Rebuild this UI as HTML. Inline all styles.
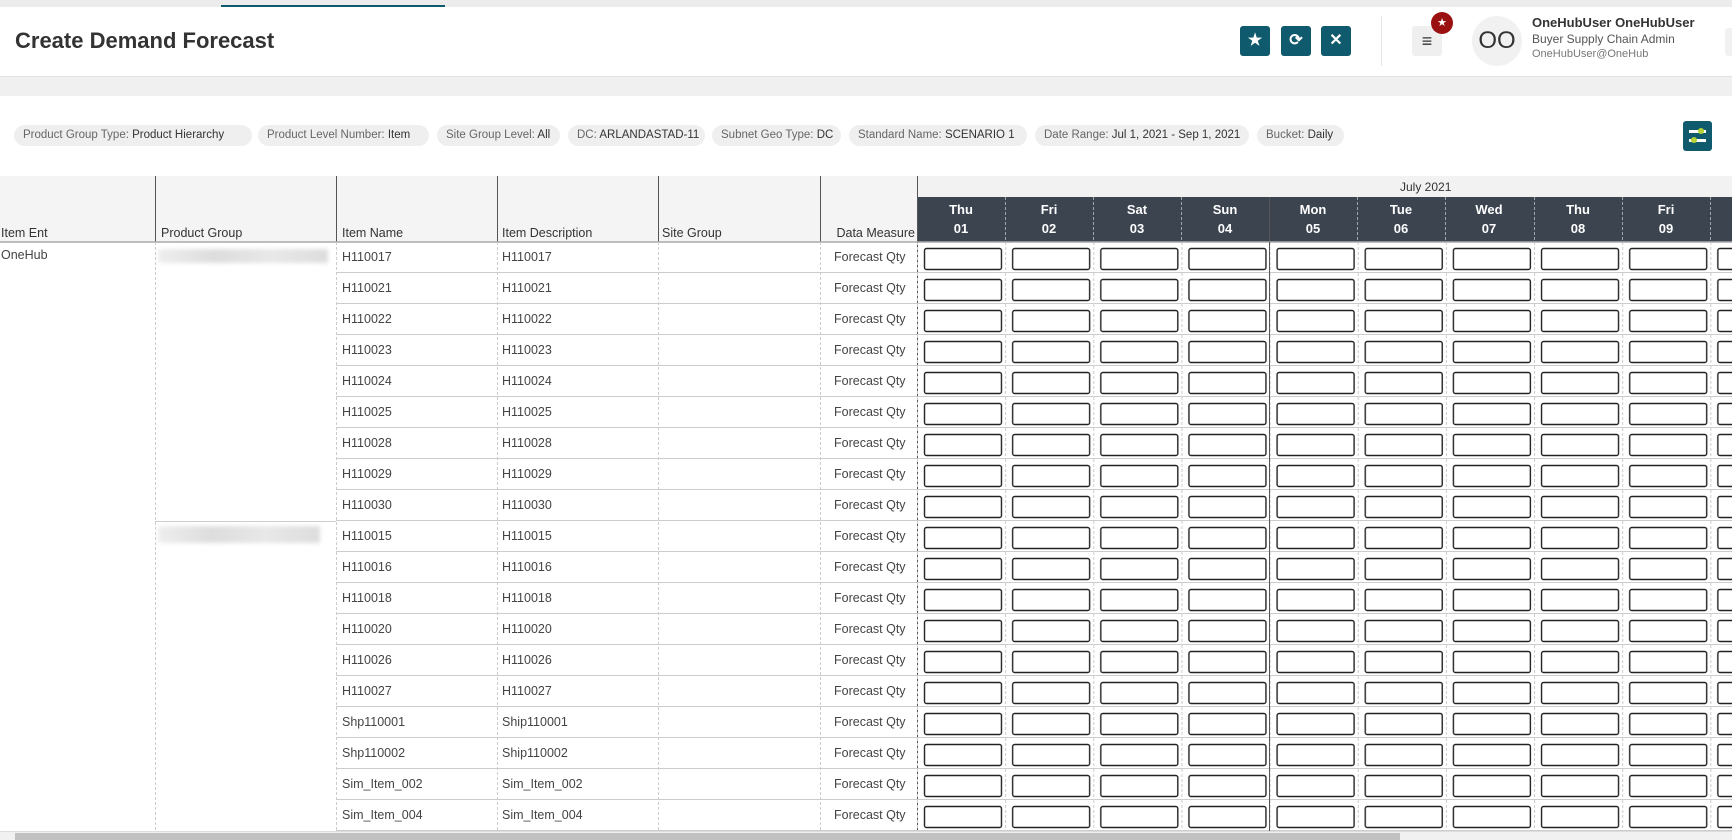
<!DOCTYPE html>
<html><head><meta charset="utf-8"><style>
*{box-sizing:border-box;margin:0;padding:0}
body{width:1732px;height:840px;overflow:hidden;background:#fff;font-family:"Liberation Sans",sans-serif;color:#444;position:relative}
.a{position:absolute}
.chip{position:absolute;top:125px;height:21px;background:#efefef;border-radius:11px;font-size:11.5px;line-height:21px;padding-left:9px;color:#666;white-space:nowrap;overflow:hidden}
.chip b{font-weight:normal;color:#333}
.btn{position:absolute;top:26px;width:30px;height:30px;background:#0f5a6c;border-radius:3px;color:#fff;font-size:16px;text-align:center;line-height:30px;font-weight:bold}
.h{position:absolute;top:226px;font-size:12.5px;color:#333}
.dh{position:absolute;top:200px;width:88px;text-align:center;color:#fff;font-weight:bold;font-size:13px;line-height:19px}
.r{position:absolute;height:31px;left:0;width:1732px;font-size:12.5px;line-height:31px}
.r span{position:absolute;top:0}
</style></head><body>
<div class="a" style="left:0;top:0;width:1732px;height:7px;background:#ececec"></div>
<div class="a" style="left:221px;top:5px;width:224px;height:3px;background:#0f5a6c"></div>
<div class="a" style="left:0;top:7px;width:1732px;height:69px;background:#fff"></div>
<div class="a" style="left:15px;top:28px;font-size:22px;font-weight:bold;color:#333">Create Demand Forecast</div>
<div class="btn" style="left:1240px">★</div>
<div class="btn" style="left:1281px">⟳</div>
<div class="btn" style="left:1321px">✕</div>
<div class="a" style="left:1381px;top:16px;width:1px;height:50px;background:#e4e4e4"></div>
<div class="a" style="left:1412px;top:26px;width:30px;height:30px;background:#efefef;border-radius:3px;text-align:center;line-height:30px;font-size:18px;color:#333;font-weight:bold">≡</div>
<div class="a" style="left:1431px;top:12px;width:22px;height:22px;border-radius:50%;background:#9b1010;color:#fff;font-size:11px;text-align:center;line-height:22px">★</div>
<div class="a" style="left:1472px;top:16px;width:50px;height:50px;border-radius:50%;background:#f1f1f1;text-align:center;line-height:50px;font-size:24px;color:#333">OO</div>
<div class="a" style="left:1532px;top:15px;font-size:13px;font-weight:bold;color:#333">OneHubUser OneHubUser</div>
<div class="a" style="left:1532px;top:32px;font-size:12px;color:#555">Buyer Supply Chain Admin</div>
<div class="a" style="left:1532px;top:48px;font-size:11px;color:#777">OneHubUser@OneHub</div>
<div class="a" style="left:1725px;top:28px;width:10px;height:28px;background:#f1f1f1;border-radius:3px"></div>
<div class="a" style="left:0;top:76px;width:1732px;height:20px;background:#f0f0f0;border-top:1px solid #e2e2e2"></div>

<div class="chip" style="left:14px;width:238px">Product Group Type: <b>Product Hierarchy</b></div>
<div class="chip" style="left:258px;width:171px">Product Level Number: <b>Item</b></div>
<div class="chip" style="left:437px;width:123px">Site Group Level: <b>All</b></div>
<div class="chip" style="left:568px;width:137px">DC: <b>ARLANDASTAD-11</b></div>
<div class="chip" style="left:712px;width:129px">Subnet Geo Type: <b>DC</b></div>
<div class="chip" style="left:849px;width:178px">Standard Name: <b>SCENARIO 1</b></div>
<div class="chip" style="left:1035px;width:214px">Date Range: <b>Jul 1, 2021 - Sep 1, 2021</b></div>
<div class="chip" style="left:1257px;width:87px">Bucket: <b>Daily</b></div>
<div class="a" style="left:1683px;top:121px;width:29px;height:30px;background:#0f5a6c;border-radius:3px">
<div class="a" style="left:6px;top:9px;width:17px;height:3px;background:#fff"></div><div class="a" style="left:6px;top:18px;width:17px;height:3px;background:#fff"></div>
<div class="a" style="left:15px;top:7px;width:6px;height:6px;border-radius:50%;background:#b5d334"></div><div class="a" style="left:8px;top:16px;width:6px;height:6px;border-radius:50%;background:#b5d334"></div></div>

<div class="a" style="left:0;top:176px;width:917px;height:66px;background:#f4f4f4"></div>
<div class="a" style="left:917px;top:176px;width:815px;height:21px;background:#f2f2f2;border-left:1px solid #333"></div>
<div class="a" style="left:1400px;top:180px;font-size:12px;color:#333">July 2021</div>
<div class="a" style="left:917px;top:197px;width:815px;height:45px;background:#3b444f"></div>
<svg class="a" style="left:0;top:176px" width="1732" height="664">
<g stroke="#555" stroke-width="1"><line x1="155.5" y1="0" x2="155.5" y2="66"/><line x1="336.5" y1="0" x2="336.5" y2="66"/><line x1="497.5" y1="0" x2="497.5" y2="66"/><line x1="658.5" y1="0" x2="658.5" y2="66"/><line x1="820.5" y1="0" x2="820.5" y2="66"/><line x1="917.5" y1="0" x2="917.5" y2="664"/><line x1="1269.5" y1="21" x2="1269.5" y2="664"/></g>
<g stroke="#9aa" stroke-dasharray="3,2"><line x1="1005.5" y1="21" x2="1005.5" y2="66"/><line x1="1093.5" y1="21" x2="1093.5" y2="66"/><line x1="1181.5" y1="21" x2="1181.5" y2="66"/><line x1="1357.5" y1="21" x2="1357.5" y2="66"/><line x1="1445.5" y1="21" x2="1445.5" y2="66"/><line x1="1534.5" y1="21" x2="1534.5" y2="66"/><line x1="1622.5" y1="21" x2="1622.5" y2="66"/><line x1="1710.5" y1="21" x2="1710.5" y2="66"/></g>
<line x1="0" y1="66" x2="1732" y2="66" stroke="#aaa" stroke-width="1.5"/>
<defs><pattern id="p" x="917" y="66" width="88.15" height="31" patternUnits="userSpaceOnUse">
<rect x="7.5" y="6.5" width="77" height="21" rx="2" fill="#fff" stroke="#222" stroke-width="1.4"/>
<line x1="0.5" y1="0" x2="0.5" y2="31" stroke="#ccc" stroke-dasharray="3,2"/>
<line x1="0" y1="30.5" x2="89" y2="30.5" stroke="#ccc"/></pattern>
<pattern id="q" x="0" y="66" width="10" height="31" patternUnits="userSpaceOnUse"><line x1="0" y1="30.5" x2="10" y2="30.5" stroke="#ccc"/></pattern></defs>
<rect x="917" y="67" width="815" height="589" fill="url(#p)"/>
<rect x="336" y="67" width="581" height="589" fill="url(#q)"/>
<line x1="155" y1="345.5" x2="336" y2="345.5" stroke="#ccc"/>
<line x1="1269.5" y1="66" x2="1269.5" y2="664" stroke="#555"/>
<g stroke="#ccc" stroke-dasharray="3,2"><line x1="155.5" y1="66" x2="155.5" y2="664"/><line x1="336.5" y1="66" x2="336.5" y2="664"/><line x1="497.5" y1="66" x2="497.5" y2="664"/><line x1="658.5" y1="66" x2="658.5" y2="664"/><line x1="820.5" y1="66" x2="820.5" y2="664"/></g>
</svg>
<div class="h" style="left:1px">Item Ent</div><div class="h" style="left:161px">Product Group</div><div class="h" style="left:342px">Item Name</div><div class="h" style="left:502px">Item Description</div><div class="h" style="left:662px">Site Group</div><div class="h" style="left:820px;width:95px;text-align:right">Data Measure</div>
<div class="dh" style="left:917px">Thu<br>01</div><div class="dh" style="left:1005px">Fri<br>02</div><div class="dh" style="left:1093px">Sat<br>03</div><div class="dh" style="left:1181px">Sun<br>04</div><div class="dh" style="left:1269px">Mon<br>05</div><div class="dh" style="left:1357px">Tue<br>06</div><div class="dh" style="left:1445px">Wed<br>07</div><div class="dh" style="left:1534px">Thu<br>08</div><div class="dh" style="left:1622px">Fri<br>09</div>

<div class="a" style="left:158px;top:249px;width:170px;height:14px;background:linear-gradient(90deg,#eee,#ddd,#e8e8e8,#ddd);filter:blur(2px)"></div>
<div class="a" style="left:158px;top:526px;width:162px;height:17px;background:linear-gradient(90deg,#eee,#ddd,#e8e8e8,#ddd);filter:blur(2px)"></div>
<div class="a" style="left:1px;top:248px;font-size:12.5px">OneHub</div>

<div class="r" style="top:242px"><span style="left:342px">H110017</span><span style="left:502px">H110017</span><span style="left:834px">Forecast Qty</span></div>
<div class="r" style="top:273px"><span style="left:342px">H110021</span><span style="left:502px">H110021</span><span style="left:834px">Forecast Qty</span></div>
<div class="r" style="top:304px"><span style="left:342px">H110022</span><span style="left:502px">H110022</span><span style="left:834px">Forecast Qty</span></div>
<div class="r" style="top:335px"><span style="left:342px">H110023</span><span style="left:502px">H110023</span><span style="left:834px">Forecast Qty</span></div>
<div class="r" style="top:366px"><span style="left:342px">H110024</span><span style="left:502px">H110024</span><span style="left:834px">Forecast Qty</span></div>
<div class="r" style="top:397px"><span style="left:342px">H110025</span><span style="left:502px">H110025</span><span style="left:834px">Forecast Qty</span></div>
<div class="r" style="top:428px"><span style="left:342px">H110028</span><span style="left:502px">H110028</span><span style="left:834px">Forecast Qty</span></div>
<div class="r" style="top:459px"><span style="left:342px">H110029</span><span style="left:502px">H110029</span><span style="left:834px">Forecast Qty</span></div>
<div class="r" style="top:490px"><span style="left:342px">H110030</span><span style="left:502px">H110030</span><span style="left:834px">Forecast Qty</span></div>
<div class="r" style="top:521px"><span style="left:342px">H110015</span><span style="left:502px">H110015</span><span style="left:834px">Forecast Qty</span></div>
<div class="r" style="top:552px"><span style="left:342px">H110016</span><span style="left:502px">H110016</span><span style="left:834px">Forecast Qty</span></div>
<div class="r" style="top:583px"><span style="left:342px">H110018</span><span style="left:502px">H110018</span><span style="left:834px">Forecast Qty</span></div>
<div class="r" style="top:614px"><span style="left:342px">H110020</span><span style="left:502px">H110020</span><span style="left:834px">Forecast Qty</span></div>
<div class="r" style="top:645px"><span style="left:342px">H110026</span><span style="left:502px">H110026</span><span style="left:834px">Forecast Qty</span></div>
<div class="r" style="top:676px"><span style="left:342px">H110027</span><span style="left:502px">H110027</span><span style="left:834px">Forecast Qty</span></div>
<div class="r" style="top:707px"><span style="left:342px">Shp110001</span><span style="left:502px">Ship110001</span><span style="left:834px">Forecast Qty</span></div>
<div class="r" style="top:738px"><span style="left:342px">Shp110002</span><span style="left:502px">Ship110002</span><span style="left:834px">Forecast Qty</span></div>
<div class="r" style="top:769px"><span style="left:342px">Sim_Item_002</span><span style="left:502px">Sim_Item_002</span><span style="left:834px">Forecast Qty</span></div>
<div class="r" style="top:800px"><span style="left:342px">Sim_Item_004</span><span style="left:502px">Sim_Item_004</span><span style="left:834px">Forecast Qty</span></div>

<div class="a" style="left:0;top:831px;width:1732px;height:9px;background:#f1f1f1;border-top:1px solid #ddd"></div>
<div class="a" style="left:15px;top:833px;width:1385px;height:7px;background:#c1c1c1"></div>
</body></html>
